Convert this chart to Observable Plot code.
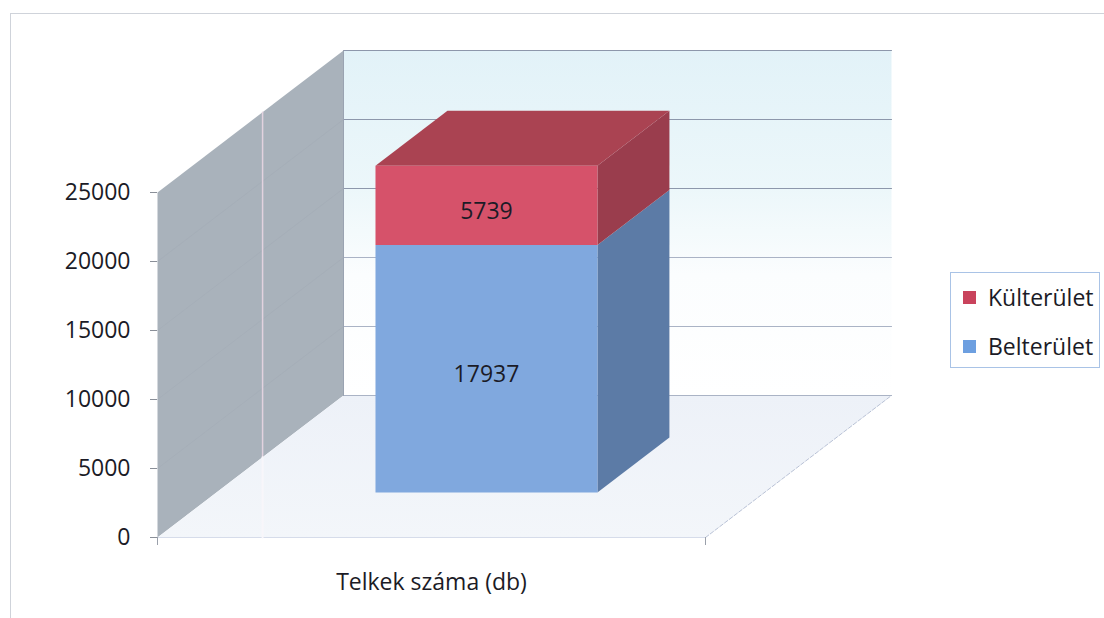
<!DOCTYPE html>
<html>
<head>
<meta charset="utf-8">
<script src="https://cdn.jsdelivr.net/npm/d3@7"></script>
<script src="https://cdn.jsdelivr.net/npm/@observablehq/plot@0.6"></script>
<style>
  html, body { margin: 0; padding: 0; background: #ffffff; }
  #wrap { position: relative; width: 1104px; height: 618px; overflow: hidden; font-family: 'Open Sans', sans-serif; }
  #frame { position: absolute; left: 10px; top: 13px; width: 1200px; height: 700px; border-left: 1px solid #cfd3da; border-top: 1px solid #cfd3da; }
  #legend { position: absolute; left: 950px; top: 272px; width: 150px; height: 96px; border: 1px solid #a9c3e6; background: #fff; box-sizing: border-box; }
  .item { position: absolute; left: 12px; display: flex; align-items: center; font-size: 23px; color: #1b1b26; white-space: nowrap; }
  .sw { width: 13px; height: 13px; margin-right: 12px; }
  #chart { position: absolute; left: 0; top: 0; }
</style>
</head>
<body>
<div id="wrap">
  <div id="frame"></div>
  <div id="chart"></div>
  <div id="legend"></div>
</div>
<script>
// ---- data ----
const categories = ["Telkek száma (db)"];
const series = ["Belterület", "Külterület"];
const values = [17937, 5739];
const yTicks = [0, 5000, 10000, 15000, 20000, 25000];
const legendOrder = ["Külterület", "Belterület"];

// ---- styles ----
const frontColors = {"Belterület": "#80a8de", "Külterület": "#d6526a"};
const sideColors  = {"Belterület": "#5c7ba6", "Külterület": "#9a3d4d"};
const topColors   = {"Belterület": "#6a8fc4", "Külterület": "#aa4352"};
const swatchColors = {"Belterület": "#6d9fe0", "Külterület": "#c9435c"};

// oblique 3D projection (u: category units, v: value units, w: depth 0..1)
const DX = 186 / 548;
const DY = 10290;
const P = (u, v, w) => ({x: u + w * DX, y: v + w * DY});
const poly = (pts) => { const a = pts.map(([u, v, w]) => P(u, v, w)); a.push({...a[0]}); return a; };
const face = (pts, fill, stroke = "none", extra = {}) =>
  Plot.line(poly(pts), {x: "x", y: "y", fill, stroke, strokeWidth: 1, curve: "linear", ...extra});

const vMax = yTicks[yTicks.length - 1];
const uc = 0.4927;
const u0 = uc - 0.2025, u1 = uc + 0.2025;     // bar width in category
const wf = 0.317, wb = 0.704;                 // bar depth

// stacks
let acc = 0;
const stacks = series.map((s, i) => { const r = {s, v0: acc, v1: acc + values[i], val: values[i]}; acc += values[i]; return r; });
const topSeg = stacks[stacks.length - 1];

const gradMark = () => {
  const d = d3.create("svg:defs");
  const g = d.append("linearGradient").attr("id", "wallGrad").attr("x1", 0).attr("y1", 0).attr("x2", 0).attr("y2", 1);
  g.append("stop").attr("offset", "0%").attr("stop-color", "#e2f2f8");
  g.append("stop").attr("offset", "40%").attr("stop-color", "#ecf7fa");
  g.append("stop").attr("offset", "65%").attr("stop-color", "#fbfdfe");
  g.append("stop").attr("offset", "100%").attr("stop-color", "#ffffff");
  const f = d.append("linearGradient").attr("id", "floorGrad").attr("x1", 0).attr("y1", 0).attr("x2", 0).attr("y2", 1);
  f.append("stop").attr("offset", "0%").attr("stop-color", "#edf1f8");
  f.append("stop").attr("offset", "100%").attr("stop-color", "#f3f6fa");
  return d.node();
};

const marks = [
  gradMark,
  // back wall
  face([[0, 0, 1], [1, 0, 1], [1, vMax, 1], [0, vMax, 1]], "url(#wallGrad)"),
  // side wall
  face([[0, 0, 0], [0, 0, 1], [0, vMax, 1], [0, vMax, 0]], "#a9b2bb"),
  // floor
  face([[0, 0, 0], [1, 0, 0], [1, 0, 1], [0, 0, 1]], "url(#floorGrad)"),
  // floor edges
  Plot.line([P(1, 0, 0), P(1, 0, 1)], {x: "x", y: "y", stroke: "#b9c2d6", strokeWidth: 1, strokeDasharray: "4,2"}),
  Plot.line([P(0, 0, 0), P(1, 0, 0)], {x: "x", y: "y", stroke: "#d6dcea", strokeWidth: 1}),
  // side wall gridlines
  ...yTicks.slice(1, -1).map(t => Plot.line([P(0, t, 0), P(0, t, 1)], {x: "x", y: "y", stroke: "#9ba4ae", strokeOpacity: 0.25, strokeWidth: 1})),
  // light vertical seam on side wall
  Plot.line([P(0, vMax, 0.565), P(0, 0, 0.565)], {x: "x", y: "y", stroke: "#e2d2df", strokeWidth: 1.5}),
  Plot.line([P(0, 0, 0.565), {x: P(0, 0, 0.565).x, y: 0}], {x: "x", y: "y", stroke: "#f8f6fa", strokeWidth: 2}),
  // back wall gridlines
  ...yTicks.map((t, i) => Plot.line([P(0, t, 1), P(1, t, 1)], {x: "x", y: "y", stroke: i >= 3 ? "#8d97ab" : "#aab3c5", strokeWidth: 1.2})),
  Plot.line([P(0, 0, 1), P(0, vMax, 1)], {x: "x", y: "y", stroke: "#9aa3b1", strokeWidth: 1}),
  // bar side faces
  ...stacks.map(st => face([[u1, st.v0, wf], [u1, st.v0, wb], [u1, st.v1, wb], [u1, st.v1, wf]], sideColors[st.s])),
  // bar top face
  face([[u0, topSeg.v1, wf], [u1, topSeg.v1, wf], [u1, topSeg.v1, wb], [u0, topSeg.v1, wb]], topColors[topSeg.s]),
  // bar front faces
  ...stacks.map(st => face([[u0, st.v0, wf], [u1, st.v0, wf], [u1, st.v1, wf], [u0, st.v1, wf]], frontColors[st.s])),
  // value labels
  Plot.text(stacks, {
    x: () => uc + wf * DX,
    y: d => (d.v0 + d.v1) / 2 + wf * DY,
    text: d => String(d.val),
    dy: 6, fontSize: 23, fill: "#1b1b26"
  }),
  // category label
  Plot.text(categories, {x: () => 0.5, y: () => 0, text: d => d, dy: 45, fontSize: 23, fill: "#1b1b26"}),
  // axes
  Plot.axisY(yTicks, {tickSize: 7, tickPadding: 20, tickFormat: d => String(d), fontSize: 23, stroke: "#8a8f98", fill: "#1b1b26", label: null}),
  Plot.axisX([0, 1], {tickSize: 8, tickFormat: () => "", stroke: "#9aa0aa", label: null})
];

const chart = Plot.plot({
  width: 1104,
  height: 618,
  marginLeft: 157,
  marginRight: 0,
  marginTop: 0,
  marginBottom: 81,
  x: {domain: [0, 1], range: [157, 705]},
  y: {domain: [0, vMax], range: [537, 192]},
  style: {fontFamily: "'Open Sans', sans-serif", fontSize: "23px", background: "transparent", overflow: "visible"},
  marks
});
document.getElementById("chart").appendChild(chart);

// legend
const leg = document.getElementById("legend");
legendOrder.forEach((s, i) => {
  const it = document.createElement("div");
  it.className = "item";
  it.style.top = (i === 0 ? 8 : 57) + "px";
  const sw = document.createElement("span");
  sw.className = "sw";
  sw.style.background = swatchColors[s];
  const tx = document.createElement("span");
  tx.textContent = s;
  it.appendChild(sw); it.appendChild(tx);
  leg.appendChild(it);
});
</script>
</body>
</html>
